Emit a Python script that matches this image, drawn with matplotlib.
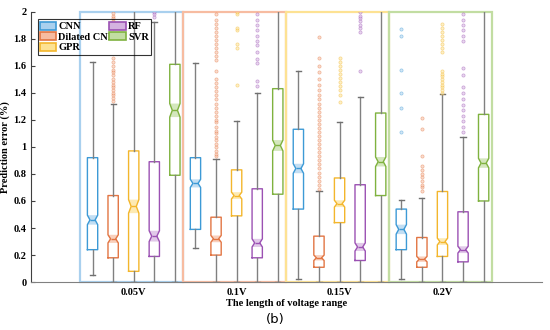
import numpy as np
import matplotlib.pyplot as plt
from matplotlib.patches import Patch, Rectangle, Polygon

groups = ["0.05V", "0.1V", "0.15V", "0.2V"]
methods = ["CNN", "Dilated CNN", "GPR", "RF", "SVR"]
colors = ["#3d9ad6", "#e27543", "#f3b62c", "#9b51b3", "#7fb23f"]
light = ["#a9d0ee", "#f7bca1", "#fde293", "#d5b3e0", "#c2dda2"]

# per method: [whislo, q1, med, q3, whishi] for each voltage range
stats = {
    "CNN": [[0.05, 0.24, 0.46, 0.92, 1.63],
            [0.25, 0.39, 0.73, 0.92, 1.62],
            [0.02, 0.54, 0.84, 1.13, 1.56],
            [0.02, 0.24, 0.39, 0.54, 0.61]],
    "Dilated CNN": [[0.0, 0.18, 0.32, 0.64, 1.32],
                    [0.0, 0.20, 0.32, 0.48, 0.91],
                    [0.0, 0.11, 0.18, 0.34, 0.67],
                    [0.0, 0.11, 0.17, 0.33, 0.62]],
    "GPR": [[0.0, 0.08, 0.56, 0.97, 2.4],
            [0.0, 0.49, 0.64, 0.83, 1.19],
            [0.0, 0.44, 0.58, 0.77, 1.18],
            [0.0, 0.19, 0.30, 0.67, 1.39]],
    "RF": [[0.0, 0.19, 0.34, 0.89, 1.92],
           [0.0, 0.18, 0.29, 0.69, 1.40],
           [0.0, 0.16, 0.26, 0.72, 1.37],
           [0.0, 0.15, 0.24, 0.52, 1.07]],
    "SVR": [[0.0, 0.79, 1.27, 1.61, 2.6],
            [0.0, 0.65, 1.01, 1.43, 2.6],
            [0.0, 0.64, 0.89, 1.25, 2.6],
            [0.0, 0.60, 0.88, 1.24, 2.6]],
}

# notch half-heights
notch = {
    "CNN": [0.035, 0.03, 0.035, 0.035],
    "Dilated CNN": [0.03, 0.025, 0.02, 0.02],
    "GPR": [0.05, 0.025, 0.025, 0.025],
    "RF": [0.04, 0.03, 0.03, 0.025],
    "SVR": [0.05, 0.04, 0.035, 0.035],
}

outliers = {
    "CNN": [[], [], [], [1.11, 1.29, 1.40, 1.57, 1.82, 1.87]],
    "Dilated CNN": [
        [1.34, 1.36, 1.38, 1.40, 1.42, 1.44, 1.46, 1.48, 1.50, 1.53, 1.55, 1.57,
         1.60, 1.63, 1.66, 1.88, 1.90, 1.93, 1.95, 1.97, 1.99],
        [0.93, 0.95, 0.97, 1.00, 1.02, 1.05, 1.07, 1.10, 1.12, 1.15, 1.18, 1.20,
         1.23, 1.26, 1.29, 1.32, 1.35, 1.38, 1.41, 1.44, 1.47, 1.50, 1.56,
         1.64, 1.67, 1.70, 1.73, 1.76, 1.79, 1.82, 1.85, 1.88, 1.91, 1.94, 1.98],
        [0.69, 0.72, 0.75, 0.78, 0.81, 0.84, 0.87, 0.90, 0.93, 0.96, 0.99, 1.02,
         1.05, 1.08, 1.11, 1.14, 1.17, 1.20, 1.23, 1.26, 1.29, 1.32, 1.35,
         1.38, 1.42, 1.46, 1.50, 1.55, 1.60, 1.66, 1.81],
        [0.67, 0.70, 0.72, 0.75, 0.78, 0.80, 0.83, 0.86, 0.93, 1.13, 1.21],
    ],
    "GPR": [
        [],
        [1.46, 1.73, 1.76, 1.86, 1.88, 1.98, 2.0],
        [1.33, 1.38, 1.42, 1.45, 1.48, 1.51, 1.54, 1.57, 1.60, 1.63, 1.66],
        [1.40, 1.42, 1.44, 1.46, 1.48, 1.50, 1.52, 1.54, 1.56, 1.70, 1.73,
         1.76, 1.79, 1.82, 1.85, 1.88, 1.91],
    ],
    "RF": [
        [1.96, 1.98, 2.0],
        [1.45, 1.49, 1.62, 1.65, 1.70, 1.75, 1.78, 1.82, 1.86, 1.90, 1.94, 1.98],
        [1.56, 1.85, 1.88, 1.90, 1.93, 1.95, 1.97, 2.0],
        [1.11, 1.15, 1.19, 1.23, 1.27, 1.31, 1.35, 1.40, 1.44, 1.53, 1.58,
         1.78, 1.82, 1.86, 1.90, 1.94, 1.98],
    ],
    "SVR": [[], [], [], []],
}

plt.rcParams['font.family'] = ['Liberation Serif', 'DejaVu Serif']
plt.rcParams['font.weight'] = 'bold'

fig = plt.figure(figsize=(5.5, 3.3), dpi=100)
ax = fig.add_axes([0.056, 0.145, 0.93, 0.82])

centers = np.arange(1, len(groups) + 1)
offsets = np.linspace(-0.4, 0.4, len(methods))
width = 0.1

# group frames
for g, c in zip(centers, [light[0], light[1], light[2], light[4]]):
    ax.add_patch(Rectangle((g - 0.52, 0), 1.0, 2.0, fill=False, edgecolor=c,
                           lw=1.6, clip_on=False, zorder=1))

for m, (name, col, lc) in enumerate(zip(methods, colors, light)):
    bxs = []
    for gi in range(len(groups)):
        lo, q1, med, q3, hi = stats[name][gi]
        h = notch[name][gi]
        bxs.append(dict(whislo=lo, q1=q1, med=med, q3=q3, whishi=hi,
                        cilo=med - h, cihi=med + h, fliers=outliers[name][gi]))
    pos = centers + offsets[m]
    ax.bxp(bxs, positions=pos, widths=width, shownotches=True, capwidths=0.05,
           boxprops=dict(color=col, lw=1.0),
           medianprops=dict(color=col, lw=1.0),
           whiskerprops=dict(color="#808080", lw=1.0),
           capprops=dict(color="#707070", lw=1.0),
           flierprops=dict(marker="o", markersize=2.3, markerfacecolor=lc,
                           markeredgecolor=col, markeredgewidth=0.5, alpha=0.5),
           manage_ticks=False, zorder=3)
    # shaded notch region
    for p, b in zip(pos, bxs):
        x0, x1 = p - width / 2, p + width / 2
        nx0, nx1 = p - width / 4, p + width / 4
        poly = [(x0, b["cilo"]), (x1, b["cilo"]), (nx1, b["med"]),
                (x1, b["cihi"]), (x0, b["cihi"]), (nx0, b["med"])]
        ax.add_patch(Polygon(poly, closed=True, facecolor=lc, edgecolor="none",
                             alpha=0.7, zorder=2))

ax.set_xlim(0.0, 4.97)
ax.set_ylim(0, 2)
ax.set_xticks(centers)
ax.set_xticklabels(groups, fontsize=7.5, fontweight="bold")
ax.set_yticks(np.arange(0, 2.01, 0.2))
ax.set_yticklabels(["0", "0.2", "0.4", "0.6", "0.8", "1", "1.2", "1.4", "1.6",
                    "1.8", "2"], fontsize=7.5, fontweight="bold")
ax.tick_params(axis="y", direction="in", length=3, pad=3, color="#404040")
ax.tick_params(axis="x", length=0, pad=4)
for s in ["top", "right"]:
    ax.spines[s].set_visible(False)
ax.spines["left"].set_color("#404040")
ax.spines["bottom"].set_color("#808080")

ax.set_xlabel("The length of voltage range", fontsize=7.5, fontweight="bold",
              labelpad=2)
ax.set_ylabel("Prediction error (%)", fontsize=7.5, fontweight="bold")
ax.yaxis.set_label_coords(-0.04, 0.5)

handles = [Patch(facecolor=lc, edgecolor=c, lw=1.2) for c, lc in zip(colors, light)]
leg = ax.legend(handles, methods, ncol=2, loc="upper left",
                bbox_to_anchor=(0.003, 0.99), fontsize=7.5,
                handlelength=1.6, handleheight=0.8, labelspacing=0.1,
                columnspacing=-0.6, handletextpad=0.2, borderpad=0.2,
                fancybox=False, edgecolor="black")
leg.get_frame().set_facecolor("none")
leg.get_frame().set_linewidth(0.8)

fig.text(0.5, 0.012, "(b)", ha="center", va="bottom", fontsize=9.5,
         family="DejaVu Sans", fontweight="normal")

fig.savefig("out.png", dpi=100)
